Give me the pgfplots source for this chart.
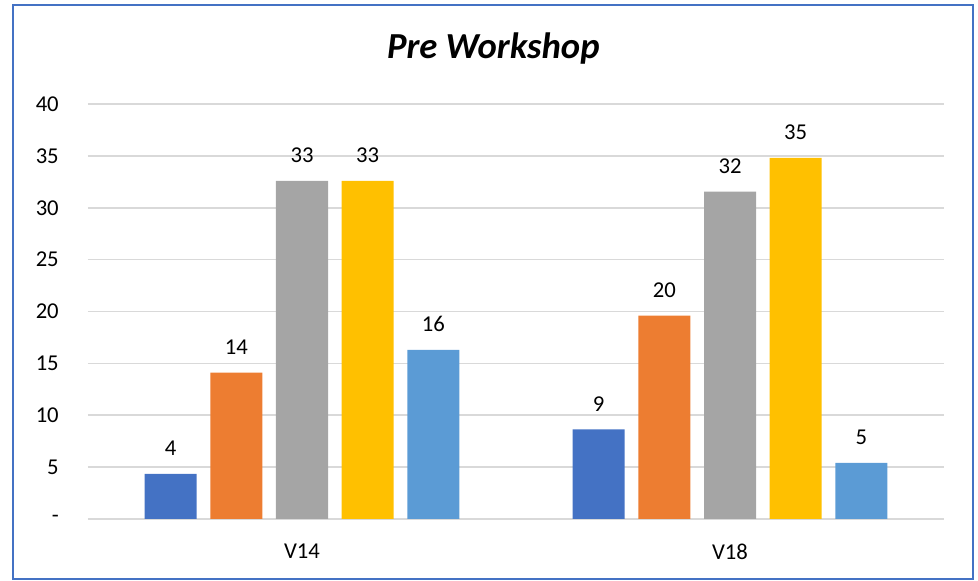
\documentclass[border=0pt]{standalone}
\usepackage{fontspec}
\setmainfont{Carlito}
\usepackage{pgfplots}
\pgfplotsset{compat=1.18}

\definecolor{cblue}{HTML}{4472C4}
\definecolor{corange}{HTML}{ED7D31}
\definecolor{cgray}{HTML}{A5A5A5}
\definecolor{cyellow}{HTML}{FFC000}
\definecolor{clblue}{HTML}{5B9BD5}
\definecolor{cgrid}{HTML}{D9D9D9}

\begin{document}
\begin{tikzpicture}
% page = 978 x 581 px, 1px = 0.75pt, origin at the plot area's lower left
\useasboundingbox (-66pt,-46.5pt) rectangle (667.5pt,389.25pt);
\begin{axis}[
    at={(0,0)}, anchor=south west,
    scale only axis,
    width=642pt, height=311.25pt,
    ybar,
    bar width=39pt,
    xmin=-0.5, xmax=1.5,
    ymin=0, ymax=40,
    xtick={0,1},
    xticklabels={V14,V18},
    ytick={0,5,...,40},
    yticklabels={-,5,10,15,20,25,30,35,40},
    ymajorgrids,
    grid style={cgrid, line width=1.2pt},
    axis line style={draw=none},
    major tick length=0pt,
    tick style={draw=none},
    ticklabel style={font=\fontsize{17}{20}\selectfont},
    yticklabel style={inner sep=0pt, xshift=-21.75pt},
    xticklabel style={inner sep=0pt, yshift=-18.75pt},
    nodes near coords,
    nodes near coords style={font=\fontsize{17}{20}\selectfont, inner sep=0pt, yshift=13.5pt,
        /pgf/number format/.cd, fixed, precision=0, assume math mode=true},
]
\addplot[fill=cblue, draw=none, bar shift=-98.6pt] coordinates {(0,4.34) (1,8.64)};
\addplot[fill=corange, draw=none, bar shift=-49.3pt] coordinates {(0,14.1) (1,19.6)};
\addplot[fill=cgray, draw=none, bar shift=0pt] coordinates {(0,32.6) (1,31.55)};
\addplot[fill=cyellow, draw=none, bar shift=49.3pt] coordinates {(0,32.6) (1,34.8)};
\addplot[fill=clblue, draw=none, bar shift=98.6pt] coordinates {(0,16.3) (1,5.4)};
\end{axis}
\node[anchor=base, font=\fontsize{27.5}{32}\selectfont\bfseries\itshape] at (304pt,345pt) {Pre Workshop};
\draw[cblue, line width=1.5pt] (-56.25pt,-45pt) rectangle (663.75pt,385.5pt);
\end{tikzpicture}
\end{document}
